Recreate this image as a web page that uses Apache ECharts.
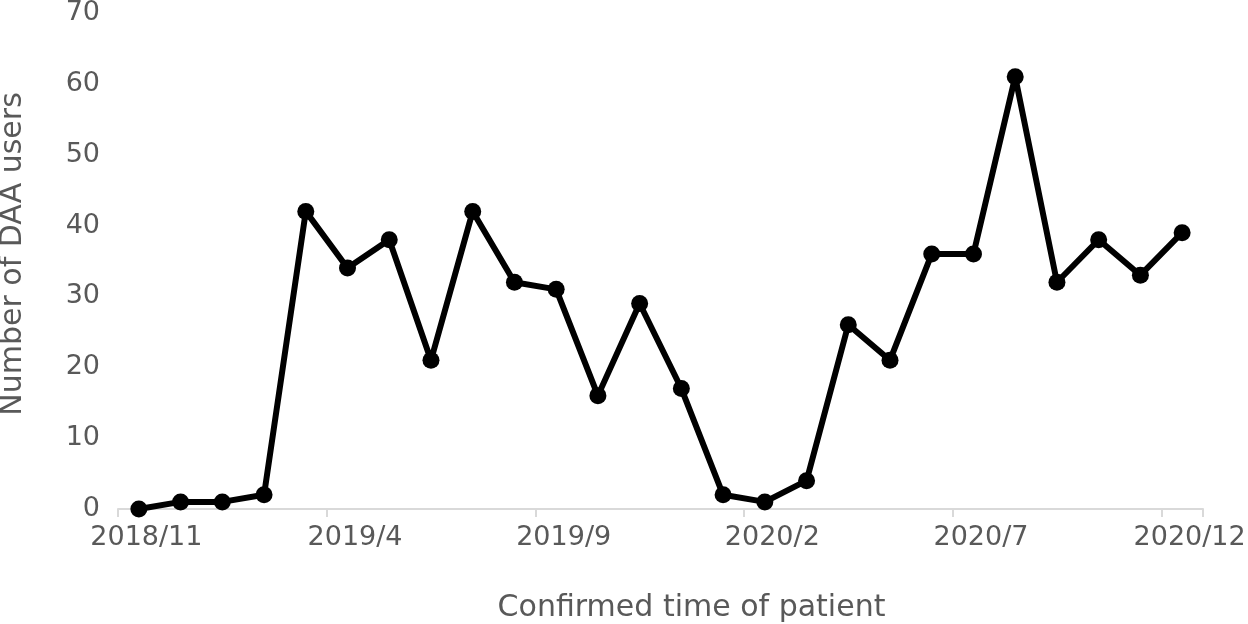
<!DOCTYPE html>
<html>
<head>
<meta charset="utf-8">
<script src="https://cdn.jsdelivr.net/npm/echarts@6/dist/echarts.min.js"></script>
<style>
html,body{margin:0;padding:0;background:#fff;}
#chart{width:1248px;height:624px;}
</style>
</head>
<body>
<div id="chart"></div>
<script>
const categories = ['2018/11','2018/12','2019/1','2019/2','2019/3','2019/4','2019/5','2019/6','2019/7','2019/8','2019/9','2019/10','2019/11','2019/12','2020/1','2020/2','2020/3','2020/4','2020/5','2020/6','2020/7','2020/8','2020/9','2020/10','2020/11','2020/12'];
const daaUsers = [0,1,1,2,42,34,38,21,42,32,31,16,29,17,2,1,4,26,21,36,36,61,32,38,33,39];
const xAxisName = 'Confirmed time of patient';
const yAxisName = 'Number of DAA users';

const chart = echarts.init(document.getElementById('chart'), null, {renderer:'canvas'});
const font = 'DejaVu Sans';
const grey = '#595959';
chart.setOption({
  animation:false,
  grid:{left:118,right:45,top:13,bottom:115,containLabel:false,outerBoundsMode:'none'},
  xAxis:{
    type:'category',
    data:categories,
    boundaryGap:true,
    name:xAxisName,
    nameLocation:'middle',
    nameGap:84,
    nameTextStyle:{color:grey,fontSize:30,fontFamily:font,padding:[0,0,0,62]},
    axisLine:{lineStyle:{color:'#d9d9d9',width:2}},
    axisTick:{show:true,interval:function(i){return i % 5 === 0 && i < categories.length;},length:8,lineStyle:{color:'#d9d9d9',width:2}},
    axisLabel:{interval:4,color:grey,fontSize:27,fontFamily:font,margin:15,padding:[0,0,0,15]},
    splitLine:{show:false}
  },
  yAxis:{
    type:'value',
    min:0,max:70,interval:10,
    name:yAxisName,
    nameLocation:'middle',
    nameGap:90,
    nameTextStyle:{color:grey,fontSize:30,fontFamily:font,padding:[0,0,0,14]},
    axisLine:{show:false},
    axisTick:{show:false},
    axisLabel:{color:grey,fontSize:27,fontFamily:font,margin:18},
    splitLine:{show:false}
  },
  series:[{
    type:'line',
    data:daaUsers,
    symbol:'circle',
    symbolSize:17,
    lineStyle:{color:'#000',width:6},
    itemStyle:{color:'#000'}
  }]
});
</script>
</body>
</html>
